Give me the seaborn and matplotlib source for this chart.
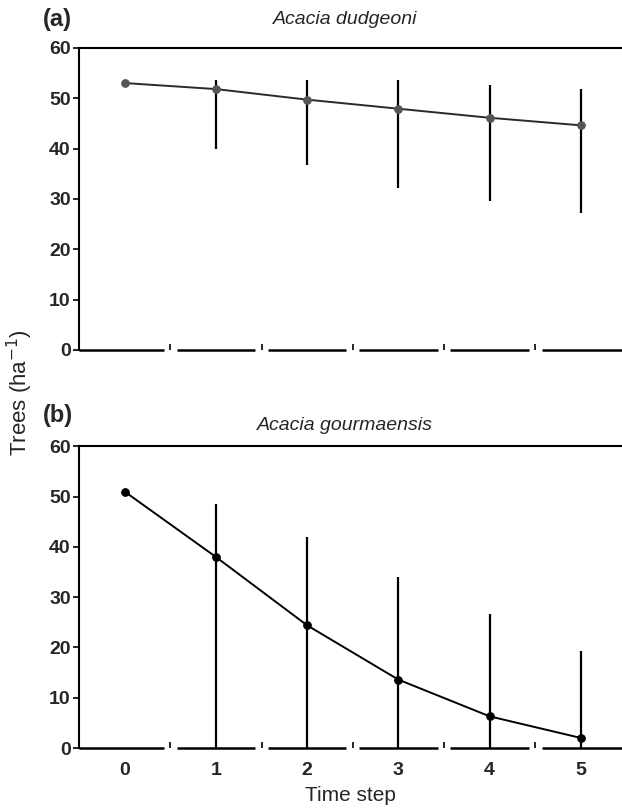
import numpy as np
import pandas as pd
import seaborn as sns
import matplotlib.pyplot as plt

# values
steps = [0, 1, 2, 3, 4, 5]
step_labels = ["0", "1", "2", "3", "4", "5"]

dudgeoni_mean = [53.0, 51.8, 49.7, 47.9, 46.1, 44.6]
dudgeoni_upper = [53.6, 53.7, 53.7, 53.7, 52.7, 51.9]
dudgeoni_lower = [52.4, 40.0, 36.8, 32.2, 29.6, 27.2]

gourmaensis_mean = [51.0, 38.0, 24.4, 13.6, 6.3, 2.0]
gourmaensis_upper = [51.0, 48.6, 41.9, 34.0, 26.6, 19.3]
gourmaensis_lower = [51.0, 0.0, 0.0, 0.0, 0.0, 0.0]

yticks = [0, 10, 20, 30, 40, 50, 60]

sns.set_style("ticks")
plt.rcParams['font.family'] = ['Liberation Sans', 'DejaVu Sans']

fig = plt.figure(figsize=(6.22, 8.10), dpi=100)
ax_a = fig.add_axes([0.127, 0.568, 0.873, 0.373])
ax_b = fig.add_axes([0.127, 0.0765, 0.873, 0.3725])

panels = [
    (ax_a, "(a)", 1.093, "Acacia dudgeoni", 17, dudgeoni_mean, dudgeoni_upper, dudgeoni_lower, "#2a2a2a", "#555555"),
    (ax_b, "(b)", 1.103, "Acacia gourmaensis", 12, gourmaensis_mean, gourmaensis_upper, gourmaensis_lower, "black", "black"),
]

tick_font = dict(family=['Liberation Sans Narrow', 'Liberation Sans', 'DejaVu Sans'],
                 weight='bold', size=14)

for ax, tag, tag_y, title, tpad, mean, upper, lower, lcol, mcol in panels:
    df = pd.DataFrame({"step": steps, "trees": mean})
    yerr = np.array([np.array(mean) - np.array(lower), np.array(upper) - np.array(mean)])
    ax.errorbar(steps, mean, yerr=yerr, fmt='none', ecolor='black', elinewidth=1.6, capsize=0, zorder=2)
    sns.lineplot(data=df, x="step", y="trees", ax=ax, color=lcol, linewidth=1.4,
                 marker='o', markersize=5.5, markerfacecolor=mcol, markeredgecolor=mcol, zorder=3)

    ax.set_xlim(-0.5, 5.45)
    ax.set_ylim(0, 60)
    ax.set_yticks(yticks)
    ax.set_yticklabels([str(t) for t in yticks], fontdict=tick_font)
    ax.set_xticks(steps)
    ax.set_xticks([0.5, 1.5, 2.5, 3.5, 4.5], minor=True)
    ax.tick_params(axis='x', which='major', length=0, pad=10)
    ax.tick_params(axis='x', which='minor', direction='in', length=4, width=1.2, color='black')
    ax.tick_params(axis='y', which='major', length=4, width=1.2, color='black', pad=2)

    for side in ['left', 'top']:
        ax.spines[side].set_linewidth(1.5)
        ax.spines[side].set_color('black')
    ax.spines['right'].set_visible(False)
    ax.spines['bottom'].set_visible(False)

    # broken baseline between the time steps
    gap = 0.07
    starts = [-0.5] + [s - 0.5 + gap for s in steps[1:]]
    ends = [s + 0.5 - gap for s in steps[:-1]] + [5.45]
    ax.hlines([0] * len(starts), starts, ends, colors='black', linewidth=1.8, clip_on=False, zorder=4)

    ax.set_xlabel("")
    ax.set_ylabel("")
    ax.set_title(title, fontsize=14, style='italic', pad=tpad, x=0.49)
    ax.text(-0.066, tag_y, tag, transform=ax.transAxes, fontsize=17, fontweight='bold',
            va='center', ha='left')

ax_a.set_xticklabels([])
ax_b.set_xticklabels(step_labels, fontdict=tick_font)
ax_b.set_xlabel("Time step", fontsize=15, labelpad=5)
fig.text(0.032, 0.516, "Trees (ha$^{-1}$)", rotation=90, fontsize=16, va='center', ha='center')

plt.savefig("out.png", dpi=100)
plt.close()
